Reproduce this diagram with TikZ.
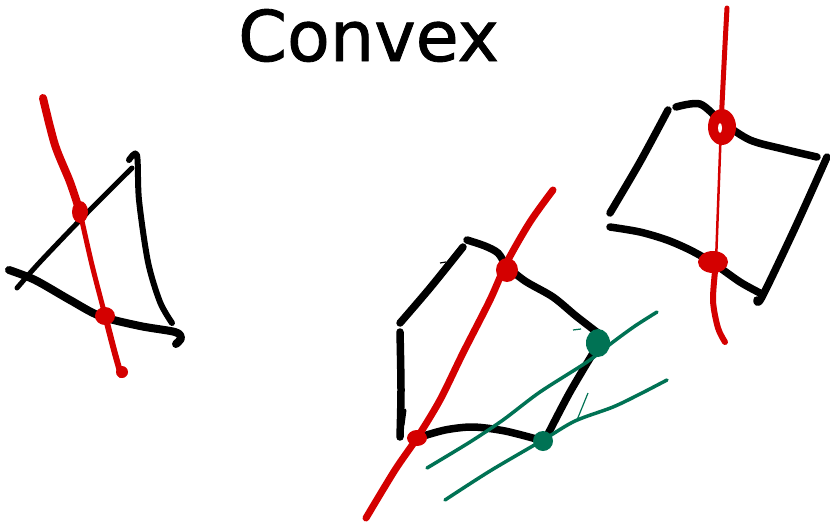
\documentclass[tikz,border=0pt]{standalone}
\usepackage{fontspec}
\newfontfamily\titlefont[FakeBold=1.2]{DejaVu Sans}
\definecolor{penred}{RGB}{212,0,0}
\definecolor{pengreen}{RGB}{0,114,84}
\tikzset{
  blk/.style={draw=black, line width=7.5pt, line cap=round, line join=round},
  redl/.style={draw=penred, line width=6pt, line cap=round, line join=round},
  grn/.style={draw=pengreen, line width=3.5pt, line cap=round, line join=round},
}
\begin{document}
\begin{tikzpicture}[x=1pt,y=-1pt]
\useasboundingbox[fill=white] (0,0) rectangle (830,525);
% title
\node[anchor=base west, inner sep=0pt, font=\titlefont\fontsize{70}{70}\selectfont] (title) at (238,61) {Convex};

% ---- triangle (left)
\draw[blk, line width=5pt] plot[smooth] coordinates {(132,168) (85,215) (40,262) (17,288)};
\draw[blk, line width=6pt] plot[smooth] coordinates {(129,160) (137,155) (139,200) (148,262) (160,302) (172,323)};
\draw[blk, line width=8pt] plot[smooth] coordinates {(9,270) (35,280) (70,300) (100,316) (140,326) (175,332) (181,338) (176,344)};
\draw[redl, line width=8pt] plot[smooth] coordinates {(43,98) (55,145) (70,182) (80,212)};
\draw[redl, line width=5pt] plot[smooth] coordinates {(80,212) (92,265) (105,315)};
\draw[redl, line width=6pt] plot[smooth] coordinates {(105,315) (114,350) (121,375)};
\fill[penred] (80,212) ellipse [x radius=8, y radius=11];
\fill[penred] (105,316) ellipse [x radius=10, y radius=9];
\fill[penred] (122,372) circle (6);

% ---- pentagon (middle)
\draw[blk] plot[smooth] coordinates {(463,247) (430,288) (400,323)};
\draw[blk] plot[smooth] coordinates {(400,332) (401,390) (400,437)};
\draw[blk, line width=3pt] (403,425) -- (405,410);
\draw[blk] plot[smooth] coordinates {(467,240) (485,246) (498,253) (507,266) (525,281) (553,297) (576,316) (598,333)};
\draw[blk] plot[smooth] coordinates {(598,345) (570,392) (547,436)};
\draw[blk] plot[smooth] coordinates {(417,438) (445,430) (473,427) (505,431) (540,440)};
\draw[black, line width=1.2pt] (440,263) -- (446,262);
\draw[redl, line width=7pt] plot[smooth] coordinates {(553,190) (530,222) (507,262) (490,300) (463,353) (440,400) (417,438) (395,470) (366,518)};
\fill[penred] (507,270) ellipse [x radius=11, y radius=12];
\fill[penred] (417,438) ellipse [x radius=10, y radius=8];
\draw[grn] plot[smooth] coordinates {(427,468) (470,442) (503,420) (540,392) (587,362) (613,342) (635,326) (657,312)};
\draw[grn] plot[smooth] coordinates {(445,500) (490,471) (543,440) (575,421) (613,407) (640,394) (667,380)};
\draw[pengreen, line width=1.2pt] (573,330) -- (581,329);
\draw[pengreen, line width=1.2pt] (577,420) -- (588,393);
\fill[pengreen] (598,343) ellipse [x radius=12, y radius=14];
\fill[pengreen] (543,441) ellipse [x radius=10, y radius=10];

% ---- square (right)
\draw[blk] plot[smooth] coordinates {(668,110) (640,162) (610,213)};
\draw[blk] plot[smooth] coordinates {(676,107) (700,104) (722,122) (750,140) (783,149) (817,157)};
\draw[blk] plot[smooth] coordinates {(827,157) (795,228) (762,297) (757,300)};
\draw[blk] plot[smooth] coordinates {(610,227) (640,232) (667,240) (690,250) (713,263) (740,282) (760,293)};
\draw[redl, line width=5pt] plot[smooth] coordinates {(727,8) (725,45) (721,125)};
\draw[redl, line width=2.5pt] (721,125) -- (716,262);
\draw[redl] plot[smooth] coordinates {(716,262) (713,300) (718,328) (725,342)};
\fill[penred] (722,127) ellipse [x radius=14, y radius=18];
\fill[white] (720,128) ellipse [x radius=2, y radius=5];
\fill[penred] (713,262) ellipse [x radius=15, y radius=11];
\end{tikzpicture}
\end{document}
